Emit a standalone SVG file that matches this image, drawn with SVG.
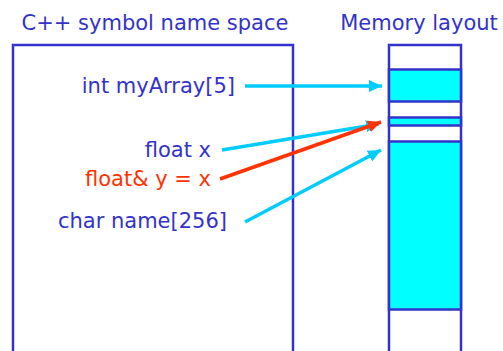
<svg xmlns="http://www.w3.org/2000/svg" width="503" height="351" viewBox="0 0 503 351">
<style>
text{font-family:"DejaVu Sans",Verdana,sans-serif;font-size:21px;fill:#3333CC}
.red{fill:#FF3300}
.box{fill:none;stroke:#3333CC;stroke-width:2.5}
.cell{fill:#00FFFF;stroke:#3333CC;stroke-width:2.5}
.wcell{fill:#FFFFFF;stroke:#3333CC;stroke-width:2.5}
.ca{stroke:#00CCFF;stroke-width:3.5;fill:none;marker-end:url(#ac)}
.ra{stroke:#FF3300;stroke-width:3.5;fill:none;marker-end:url(#ar)}
</style>
<defs>
<marker id="ac" markerUnits="userSpaceOnUse" markerWidth="14" markerHeight="12" refX="13" refY="6" orient="auto"><polygon points="0,0 13,6 0,12" fill="#00CCFF"/></marker>
<marker id="ar" markerUnits="userSpaceOnUse" markerWidth="14" markerHeight="12" refX="13" refY="6" orient="auto"><polygon points="0,0 13,6 0,12" fill="#FF3300"/></marker>
</defs>
<rect width="503" height="351" fill="#FFFFFF"/>
<g id="namespace">
<rect class="box" x="13" y="45" width="280" height="330"/>
<text x="155" y="30" text-anchor="middle">C++ symbol name space</text>
</g>
<g id="memory">
<rect class="wcell" x="389" y="45" width="72" height="330"/>
<rect class="cell" x="389" y="69.5" width="72" height="32"/>
<rect class="cell" x="389" y="117.5" width="72" height="8"/>
<rect class="cell" x="389" y="141.5" width="72" height="168"/>
<text x="419" y="30" text-anchor="middle">Memory layout</text>
</g>
<g id="myArray"><text x="235" y="93" text-anchor="end">int myArray[5]</text></g>
<g id="floatx"><text x="211" y="157" text-anchor="end">float x</text></g>
<g id="floatref"><text x="211" y="186" text-anchor="end" class="red">float&amp; y = x</text></g>
<g id="name"><text x="227" y="228" text-anchor="end">char name[256]</text></g>
<g id="connectors">
<line class="ca" x1="245" y1="86" x2="382" y2="86"/>
<line class="ca" x1="222" y1="150" x2="379" y2="124"/>
<line class="ra" x1="220" y1="179" x2="381" y2="122"/>
<line class="ca" x1="245" y1="222" x2="381" y2="150"/>
</g>
</svg>
